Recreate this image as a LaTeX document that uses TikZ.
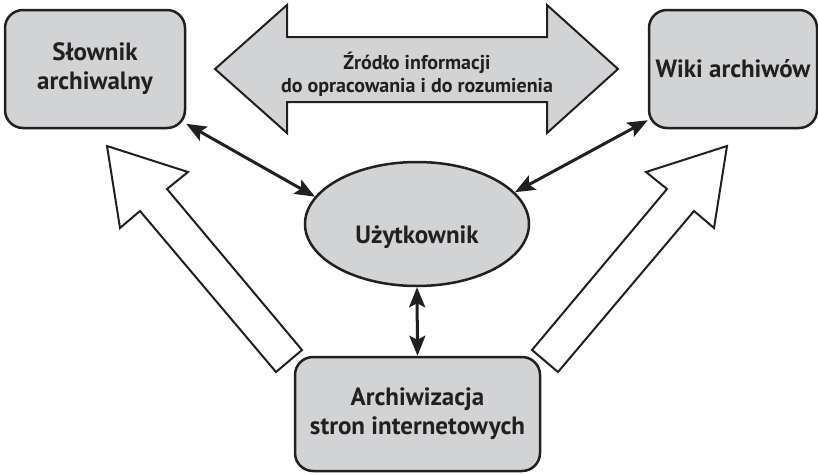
\documentclass[tikz,border=0pt]{standalone}
\usepackage{fontspec}
\setmainfont{PT Sans}
\usetikzlibrary{arrows.meta, shapes.geometric}

\definecolor{ink}{HTML}{231F20}
\definecolor{boxgray}{HTML}{D1D3D4}

\tikzset{
  box/.style={draw=ink, fill=boxgray, line width=2.5pt, rounded corners=18pt,
    align=center, text=ink, font=\bfseries\fontsize{25}{29}\selectfont},
  user/.style={ellipse, draw=ink, fill=boxgray, line width=2.5pt,
    minimum width=224pt, minimum height=124pt},
  bigarrow/.style={draw=ink, line width=2pt, line join=miter},
  link/.style={draw=ink, line width=3pt,
    >={Stealth[length=20pt, width=16pt, inset=4pt]}, <->}
}

\begin{document}
\begin{tikzpicture}[x=1pt, y=-1pt]
\useasboundingbox (0,0) rectangle (818,474);

%double arrow at the top
\filldraw[bigarrow, fill=boxgray](215,69)--(287,5)--(287,37)--(547,37)--(547,5)
  --(618,69)--(547,133)--(547,102)--(287,102)--(287,133)--cycle;
\node[text=ink, align=center, font=\bfseries\fontsize{20}{23}\selectfont]
  at (417,74) (src) {Źródło informacji\\do opracowania i do rozumienia};

%hollow arrows
\filldraw[bigarrow, fill=white](107,146)--(188,172)--(167,189)--(302,350)
  --(276,372)--(140,211)--(120,228)--cycle;
\filldraw[bigarrow, fill=white](727,146)--(646,172)--(667,189)--(532,350)
  --(558,372)--(694,211)--(714,228)--cycle;

 \node[box, minimum width=180pt, minimum height=118pt] at (95,69) (slownik) {Słownik\\archiwalny};
 \node[box, minimum width=168pt, minimum height=118pt] at (733,69) (wiki) {Wiki archiwów};
 \node[box, minimum width=245pt, minimum height=114pt] at (417.5,414) (arch) {Archiwizacja\\stron internetowych};
 \node[user] at (417,224) (user) {};
 \node[text=ink, font=\bfseries\fontsize{25}{29}\selectfont] at (417,237) (usertext) {Użytkownik};

\draw[link](slownik.-31)--(user.165);
\draw[link](wiki.211)--(user.18);
\draw[link](user.south)--(arch.north);

\end{tikzpicture}
\end{document}
